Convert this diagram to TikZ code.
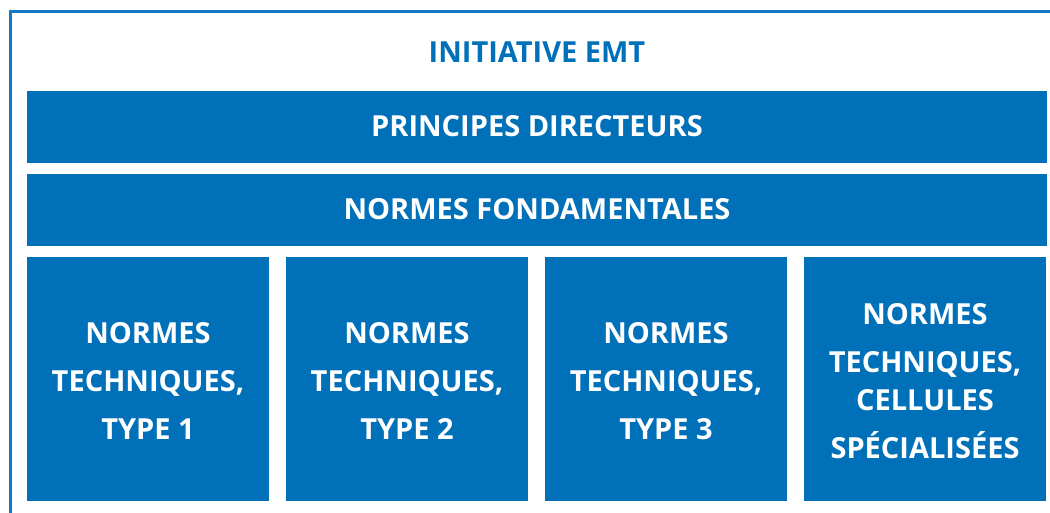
\documentclass[tikz,border=0pt]{standalone}
\usepackage{fontspec}
\setmainfont{Open Sans}
\definecolor{emtblue}{RGB}{0,112,185}
\definecolor{frameblue}{RGB}{20,120,195}
\begin{document}
\begin{tikzpicture}[x=1pt,y=-1pt,
  bar/.style={fill=emtblue, draw=none, minimum width=1020pt, minimum height=72pt,
    inner sep=0pt, text=white, font=\bfseries\fontsize{29}{35}\selectfont},
  block/.style={fill=emtblue, draw=none, minimum width=242pt, minimum height=244pt,
    inner sep=0pt},
  blocktext/.style={inner sep=0pt, text=white, align=center,
    font=\bfseries\fontsize{29}{48}\selectfont},
  title/.style={text=emtblue, inner sep=0pt, font=\bfseries\fontsize{29}{35}\selectfont}]
\useasboundingbox (0,0) rectangle (1050,512);

% outer frame (open to the right and bottom)
\draw[frameblue, line width=3pt, line join=miter] (10.5,530) -- (10.5,11.5) -- (1070,11.5);

% heading
\node[title] (title) at (537,52.5) {INITIATIVE EMT};

% full-width bars
\node[bar] (principes) at (537,126.5) {PRINCIPES DIRECTEURS};
\node[bar] (fondamentales) at (537,209.5) {NORMES FONDAMENTALES};

% four technical blocks
\node[block] (type1) at (148,379) {};
\node[block] (type2) at (407,379) {};
\node[block] (type3) at (666,379) {};
\node[block] (cellules) at (925,379) {};

% block captions
\node[blocktext] (type1-t) at ([yshift=-2pt]type1.center) {NORMES\\TECHNIQUES,\\TYPE 1};
\node[blocktext] (type2-t) at ([yshift=-2pt]type2.center) {NORMES\\TECHNIQUES,\\TYPE 2};
\node[blocktext] (type3-t) at ([yshift=-2pt]type3.center) {NORMES\\TECHNIQUES,\\TYPE 3};
\node[blocktext] (cellules-t) at ([yshift=-2pt]cellules.center) {NORMES\\TECHNIQUES,\\[-10pt]CELLULES\\SPÉCIALISÉES};
\end{tikzpicture}
\end{document}
